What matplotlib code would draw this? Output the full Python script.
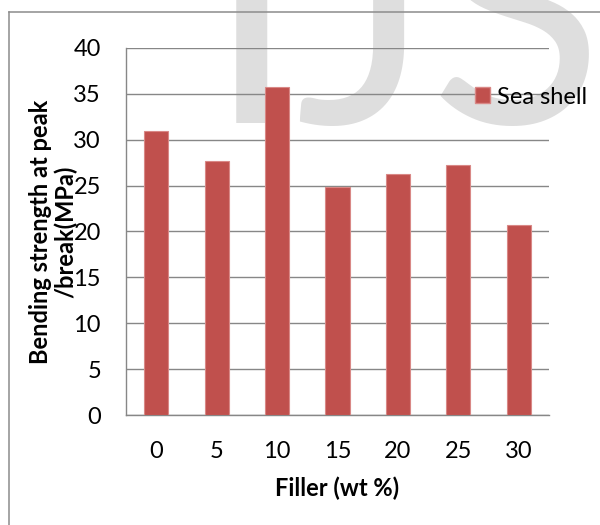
import matplotlib.pyplot as plt
from matplotlib.lines import Line2D
from matplotlib.patches import Patch
from matplotlib.textpath import TextPath
from matplotlib.font_manager import FontProperties

filler = ['0', '5', '10', '15', '20', '25', '30']
strength = [30.9, 27.7, 35.7, 24.8, 26.3, 27.2, 20.7]
yticks = [0, 5, 10, 15, 20, 25, 30, 35, 40]

bar_color = '#C0504D'
edge_color = '#d98886'
grid_color = '#878787'

plt.rcParams['font.family'] = ['Lato', 'DejaVu Sans']

W, H = 600, 525
fig = plt.figure(figsize=(W / 100, H / 100), dpi=100)
ax = fig.add_axes([0.21, 0.2095, 0.705, 0.6991])
ax.patch.set_visible(False)

# faint "IJS" letters behind the plot; each letter is placed by its ink edge
mark_size = 230
mark_font = FontProperties(family='Lato')
size_px = mark_size * 100 / 72
for letter, edge_px, side in [('I', 236, 'left'), ('J', 403, 'right'), ('S', 440, 'left')]:
    ext = TextPath((0, 0), letter, size=size_px, prop=mark_font).get_extents()
    x0 = edge_px - (ext.x0 if side == 'left' else ext.x1)
    fig.text(x0 / W, 1 - 123 / H, letter, fontsize=mark_size, color='#dedede',
             ha='left', va='baseline', zorder=-5)

# outer chart frame, only the top and left edges are in view
frame_x = 9 / W
frame_y = 1 - 12 / H
fig.add_artist(Line2D([frame_x, frame_x], [0, frame_y], transform=fig.transFigure,
                      color='#8c8c8c', lw=1.1))
fig.add_artist(Line2D([frame_x, 1], [frame_y, frame_y], transform=fig.transFigure,
                      color='#8c8c8c', lw=1.1))

x = range(len(filler))
ax.bar(x, strength, width=0.4, color=bar_color, edgecolor=edge_color, linewidth=0.8, zorder=3)

ax.set_xlim(-0.5, len(filler) - 0.5)
ax.set_ylim(0, 40)
ax.set_yticks(yticks)
ax.set_xticks(list(x))
ax.set_xticklabels(filler)
ax.yaxis.grid(True, color=grid_color, linewidth=1.0)
ax.set_axisbelow(True)

for side in ['top', 'right']:
    ax.spines[side].set_visible(False)
for side in ['left', 'bottom']:
    ax.spines[side].set_color(grid_color)
    ax.spines[side].set_linewidth(1.0)

ax.tick_params(axis='y', length=0, pad=18, labelsize=17)
ax.tick_params(axis='x', length=0, pad=19, labelsize=17)

ax.set_xlabel('Filler (wt %)', fontsize=17, fontweight='bold', labelpad=10)
ax.set_ylabel('Bending strength at peak\n/break(MPa)', fontsize=17, fontweight='bold',
              linespacing=1.1)
ax.yaxis.set_label_coords((77 - 126) / 423, 0.5)

ax.legend(handles=[Patch(facecolor=bar_color, edgecolor=edge_color, label='Sea shell')],
          loc='center left', bbox_to_anchor=(475 / W, 1 - 97 / H),
          bbox_transform=fig.transFigure, frameon=False, fontsize=17,
          handlelength=0.65, handleheight=0.65, handletextpad=0.3, borderpad=0,
          borderaxespad=0)

fig.savefig('out.png', dpi=100)
